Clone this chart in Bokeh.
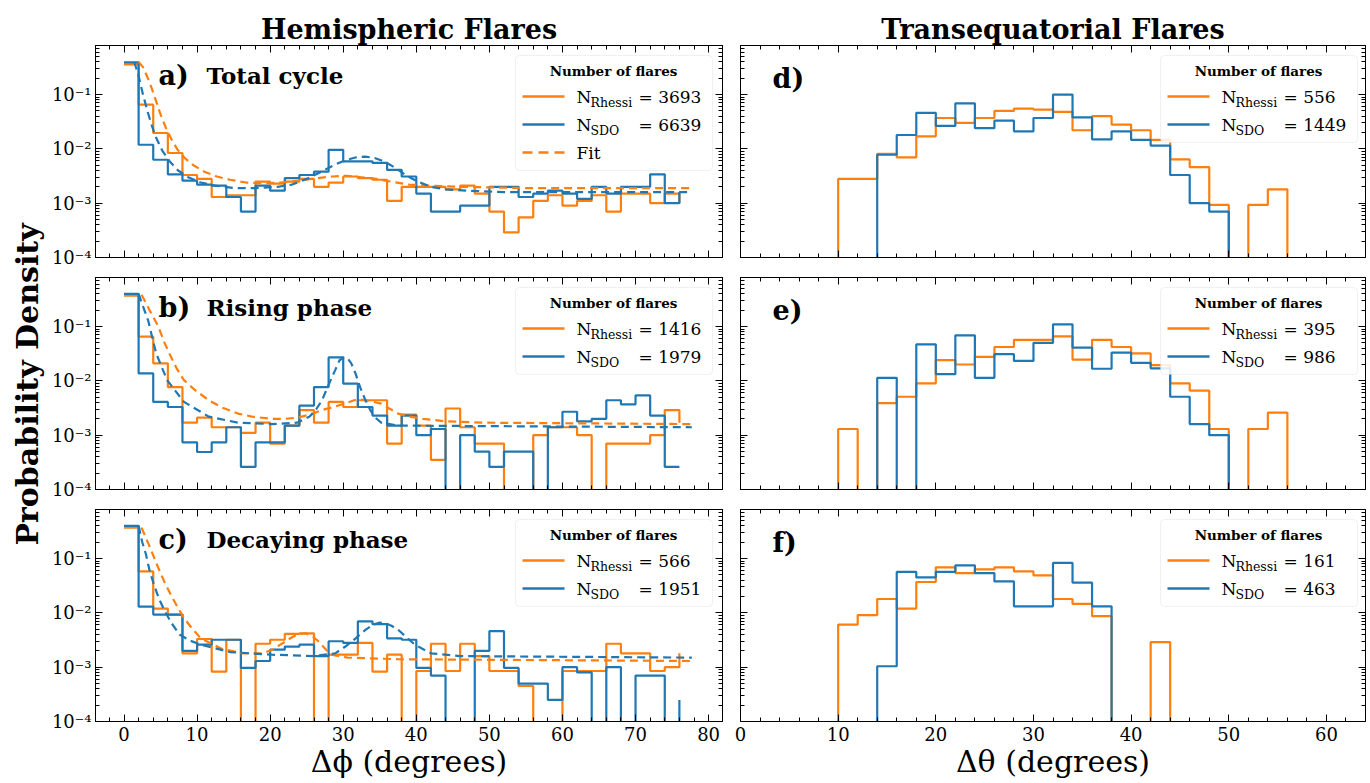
import math
from bokeh.plotting import figure
from bokeh.layouts import column, row
from bokeh.models import (Range1d, LinearAxis, LogAxis, FixedTicker,
                          CustomJSTickFormatter, Label, BoxAnnotation)
from bokeh.embed import file_html
from bokeh.resources import INLINE

# ------------------------------------------------------------------ data
hemi_edges = list(range(0, 78, 2))      # left bin edges, 0..76 deg
trans_edges = list(range(0, 60, 2))     # left bin edges, 0..58 deg

a_rhessi = [0.36, 0.065, 0.0196, 0.0084, 0.0033, 0.0028, 0.0013, 0.0014, 0.0014, 0.0025,
            0.0023, 0.0025, 0.0028, 0.0020, 0.0024, 0.0031, 0.0029, 0.0027, 0.0011, 0.0020,
            0.0020, 0.0020, 0.0018, 0.0021, 0.0015, 0.0007, 0.00029, 0.00055, 0.0011, 0.0014,
            0.0009, 0.0011, 0.0014, 0.0007, 0.0015, 0.0015, 0.0010, 0.0015, 0.0010]
a_sdo = [0.39, 0.0119, 0.0063, 0.0034, 0.0026, 0.0022, 0.0021, 0.0013, 0.0007, 0.0021,
         0.0017, 0.0029, 0.0033, 0.0038, 0.0096, 0.0059, 0.0059, 0.0055, 0.0041, 0.0031,
         0.0015, 0.0007, 0.0007, 0.0009, 0.0009, 0.0020, 0.0020, 0.0013, 0.0015, 0.0017,
         0.0015, 0.0012, 0.0020, 0.0015, 0.0020, 0.0020, 0.0034, 0.0010, 0.0016]
b_rhessi = [0.37, 0.065, 0.021, 0.0077, 0.0017, 0.0021, 0.0014, 0.0014, 0.0011, 0.0017,
            0.0007, 0.0015, 0.0029, 0.0017, 0.0041, 0.0033, 0.0044, 0.0044, 0.0007, 0.0024,
            0.0015, 0.00035, 0.0031, 0.0014, 0.0007, 0.0007, 0, 0, 0.0010, 0.0014,
            0.0014, 0.0010, 0, 0.0007, 0.0007, 0.0007, 0.0010, 0.0029, 0.0017]
b_sdo = [0.40, 0.0137, 0.0041, 0.0033, 0.00074, 0.00049, 0.00074, 0.0014, 0.00026, 0.00074,
         0.00074, 0.0015, 0.0035, 0.0077, 0.027, 0.0089, 0.0033, 0.0023, 0.0015, 0.0023,
         0.0010, 0.0013, 0, 0.0010, 0.0005, 0.00026, 0.0005, 0.0005, 0, 0.0014,
         0.0027, 0.0018, 0.0020, 0.0044, 0.0037, 0.0054, 0.0023, 0.00026, 0.00026]
c_rhessi = [0.37, 0.058, 0.012, 0.0093, 0.0018, 0.0033, 0.00083, 0.0032, 0, 0.0027,
            0.0032, 0.0041, 0.0042, 0, 0.0017, 0.0017, 0.0028, 0.00083, 0.0017, 0,
            0.00085, 0.0027, 0.00085, 0.0027, 0.0016, 0.00085, 0.00085, 0.00045, 0, 0,
            0.00085, 0.00085, 0.00085, 0.0027, 0.0018, 0.0018, 0.00085, 0.0010, 0.0018]
c_sdo = [0.40, 0.013, 0.0093, 0.0093, 0.0020, 0.0026, 0.0032, 0.0032, 0.00097, 0.0013,
         0.0021, 0.0024, 0.0026, 0.0016, 0.0030, 0.0028, 0.0070, 0.0062, 0.0034, 0.0032,
         0.00097, 0.0007, 0, 0, 0.0020, 0.0046, 0.00097, 0.0005, 0.0005, 0.00025,
         0.0010, 0.0008, 0, 0.0010, 0, 0.0007, 0.0007, 0, 0.00025]

d_rhessi = [0, 0, 0, 0, 0, 0.0028, 0.0028, 0.0081, 0.0070, 0.017,
            0.037, 0.030, 0.037, 0.050, 0.055, 0.053, 0.048, 0.022, 0.040, 0.028,
            0.022, 0.0146, 0.0064, 0.0046, 0.00093, 0, 0.00093, 0.0018, 0, 0]
d_sdo = [0, 0, 0, 0, 0, 0, 0, 0.0078, 0.018, 0.046,
         0.0265, 0.069, 0.024, 0.033, 0.021, 0.037, 0.10, 0.038, 0.015, 0.021,
         0.0146, 0.0115, 0.0033, 0.0010, 0.0007, 0, 0, 0, 0, 0]
e_rhessi = [0, 0, 0, 0, 0, 0.0013, 0, 0.0039, 0.0051, 0.0090,
            0.024, 0.020, 0.0277, 0.042, 0.057, 0.057, 0.066, 0.0247, 0.057, 0.042,
            0.032, 0.0195, 0.009, 0.0066, 0.0013, 0, 0.0013, 0.0026, 0, 0]
e_sdo = [0, 0, 0, 0, 0, 0, 0, 0.0114, 0, 0.047,
         0.0133, 0.069, 0.0114, 0.031, 0.0233, 0.050, 0.11, 0.041, 0.0167, 0.033,
         0.0215, 0.017, 0.0051, 0.0016, 0.0010, 0, 0, 0, 0, 0]
f_rhessi = [0, 0, 0, 0, 0, 0.0061, 0.0091, 0.018, 0.012, 0.037,
            0.069, 0.054, 0.063, 0.069, 0.058, 0.049, 0.018, 0.0146, 0.0087, 0,
            0, 0.0029, 0, 0, 0, 0, 0, 0, 0, 0]
f_sdo = [0, 0, 0, 0, 0, 0, 0, 0.00104, 0.057, 0.045,
         0.057, 0.075, 0.054, 0.038, 0.0132, 0.0132, 0.083, 0.036, 0.0132, 0,
         0, 0, 0, 0, 0, 0, 0, 0, 0, 0]

# fitted curves
a_fit_rhessi_x = [2.0, 2.6, 3.2, 3.8, 4.4, 5.0, 5.7, 6.5, 7.3, 8.3, 9.5, 11.0, 12.7, 14.5, 16.7,
                  19.0, 21.5, 24.0, 26.5, 28.5, 30.5, 32.5, 34.5, 36.5, 39.0, 42.0, 46.0, 55.0, 65.0, 77.7]
a_fit_rhessi = [0.40, 0.32, 0.21, 0.13, 0.075, 0.043, 0.025, 0.015, 0.0098, 0.0068, 0.0050, 0.0038,
                0.0031, 0.0027, 0.0024, 0.0023, 0.0024, 0.0026, 0.0029, 0.0031, 0.0032, 0.0030,
                0.0028, 0.0025, 0.0022, 0.0021, 0.0020, 0.0019, 0.0019, 0.0019]
a_fit_sdo_x = [1.4, 2.0, 2.6, 3.2, 3.8, 4.4, 5.2, 6.2, 7.4, 8.8, 10.5, 12.5, 15.0, 18.0, 21.0, 23.0,
               25.0, 27.0, 28.7, 30.3, 31.8, 33.0, 34.3, 35.7, 37.2, 38.7, 40.2, 42.0, 44.0, 47.0,
               52.0, 65.0, 77.7]
a_fit_sdo = [0.40, 0.22, 0.10, 0.05, 0.027, 0.016, 0.0095, 0.0060, 0.0040, 0.0030, 0.0024, 0.0021,
             0.0019, 0.0019, 0.0020, 0.0022, 0.0028, 0.0038, 0.0050, 0.0062, 0.0070, 0.0072, 0.0068,
             0.0058, 0.0044, 0.0032, 0.0025, 0.0020, 0.0018, 0.0017, 0.0016, 0.0016, 0.0016]
b_fit_rhessi_x = [2.4, 3.5, 4.7, 5.5, 6.4, 7.2, 8.2, 9.7, 11.6, 13.5, 15.6, 17.5, 20.2, 22.0, 23.7,
                  25.5, 27.1, 29.0, 30.6, 31.5, 32.5, 33.5, 35.2, 36.3, 37.5, 39.0, 40.9, 44.0, 49.0, 77.7]
b_fit_rhessi = [0.385, 0.20, 0.10, 0.052, 0.028, 0.017, 0.0103, 0.0068, 0.0044, 0.0032, 0.0025,
                0.0022, 0.0020, 0.0020, 0.0021, 0.0024, 0.0029, 0.0034, 0.0040, 0.0044, 0.0045,
                0.0043, 0.0038, 0.0031, 0.0025, 0.0022, 0.0020, 0.0018, 0.0017, 0.0016]
b_fit_sdo_x = [2.0, 2.4, 3.3, 4.4, 5.9, 8.2, 11.6, 15.6, 20.2, 23.7, 25.4, 26.3, 27.1, 28.0, 28.9,
               29.5, 30.1, 30.6, 31.1, 31.7, 32.3, 33.0, 33.7, 34.4, 35.2, 37.5, 77.7]
b_fit_sdo = [0.40, 0.28, 0.13, 0.032, 0.0103, 0.0041, 0.0022, 0.0017, 0.0016, 0.0017, 0.0022, 0.0030,
             0.0044, 0.0085, 0.0158, 0.024, 0.027, 0.026, 0.021, 0.0135, 0.0077, 0.0045, 0.0029,
             0.0021, 0.0017, 0.0015, 0.0014]
c_fit_rhessi_x = [2.4, 3.4, 4.7, 5.5, 6.4, 7.3, 8.2, 9.3, 10.5, 13.3, 16.2, 19.0, 20.3, 21.4, 22.6,
                  23.7, 24.8, 25.8, 26.6, 27.5, 28.3, 30.6, 37.5, 77.7]
c_fit_rhessi = [0.37, 0.18, 0.067, 0.038, 0.0216, 0.013, 0.008, 0.0052, 0.0034, 0.0022, 0.0018,
                0.0018, 0.0021, 0.0026, 0.0033, 0.0040, 0.0042, 0.0037, 0.0030, 0.0022, 0.0017,
                0.0015, 0.0014, 0.0013]
c_fit_sdo_x = [2.0, 2.5, 3.0, 3.5, 4.1, 4.8, 5.6, 6.5, 7.6, 9.0, 10.5, 14.5, 20.2, 26.0, 28.9, 30.3,
               31.7, 33.0, 34.0, 35.0, 35.7, 36.6, 37.5, 38.7, 39.8, 42.0, 46.0, 77.7]
c_fit_sdo = [0.40, 0.20, 0.12, 0.06, 0.033, 0.018, 0.0106, 0.0065, 0.0040, 0.0031, 0.0026, 0.0019,
             0.0017, 0.0016, 0.0018, 0.0024, 0.0034, 0.0048, 0.0060, 0.0066, 0.0065, 0.0058,
             0.0049, 0.0035, 0.0026, 0.0018, 0.0016, 0.0015]

n_flares = {"a": (3693, 6639), "b": (1416, 1979), "c": (566, 1951),
            "d": (556, 1449), "e": (395, 986), "f": (161, 463)}
panel_titles = {"a": "Total cycle", "b": "Rising phase", "c": "Decaying phase"}

y_ticks = [1e-4, 1e-3, 1e-2, 1e-1]
y_tick_labels = ["10⁻⁴", "10⁻³", "10⁻²", "10⁻¹"]
hemi_xticks = [0, 10, 20, 30, 40, 50, 60, 70, 80]
trans_xticks = [0, 10, 20, 30, 40, 50, 60]

# ------------------------------------------------------------------ style
FONT = "DejaVu Serif"
ORANGE = "#ff7f0e"
BLUE = "#1f77b4"
FH = 212
LW = 2.2
YMIN, YMAX = 1e-4, 0.8
LABEL_W = 45            # width of the strip holding the shared y label
TOTAL_H = 783

y_minor = [m * 10.0 ** e for e in range(-4, 0) for m in range(2, 10)]
hemi_xminor = [v for v in range(-2, 82, 2) if v % 10]
trans_xminor = [v for v in range(2, 64, 2) if v % 10]

ylab_formatter = CustomJSTickFormatter(args=dict(vals=y_ticks, labs=y_tick_labels), code="""
let best = 0, bd = Infinity;
for (let i = 0; i < vals.length; i++) {
  const d = Math.abs(Math.log10(vals[i]) - Math.log10(tick));
  if (d < bd) { bd = d; best = i; }
}
return labs[best];
""")


def floor0(vals):
    return [v if v > 0 else 1e-9 for v in vals]


class Frame:
    """Converts pixel offsets inside a panel frame into data coordinates."""
    def __init__(self, x0, x1, fw):
        self.x0, self.x1, self.fw = x0, x1, fw

    def X(self, px):                      # px from frame left
        return self.x0 + px / self.fw * (self.x1 - self.x0)

    def Y(self, py):                      # py from frame top
        lo, hi = math.log10(YMIN), math.log10(YMAX)
        return 10 ** (hi - py / FH * (hi - lo))


def style_axis(ax, labels, standoff):
    ax.major_tick_in = 7
    ax.major_tick_out = 0
    ax.minor_tick_in = 4
    ax.minor_tick_out = 0
    ax.axis_line_color = "black"
    ax.major_tick_line_color = "black"
    ax.minor_tick_line_color = "black"
    ax.major_label_text_font = FONT
    if labels:
        ax.major_label_text_font_size = "18px"
        ax.major_label_text_color = "black"
        ax.major_label_standoff = standoff
    else:
        ax.major_label_text_font_size = "1px"
        ax.major_label_text_color = None
        ax.major_label_standoff = 0


def axis_title(ax, text, size, bold, standoff):
    ax.axis_label = text
    ax.axis_label_text_font = FONT
    ax.axis_label_text_font_size = f"{size}px"
    ax.axis_label_text_font_style = "bold" if bold else "normal"
    ax.axis_label_text_color = "black"
    ax.axis_label_standoff = standoff


def txt(p, fr, px, py, text, size, bold=False, align="left", baseline="middle"):
    p.add_layout(Label(x=fr.X(px), y=fr.Y(py), text=text,
                       text_font=FONT, text_font_size=f"{size}px",
                       text_font_style="bold" if bold else "normal",
                       text_align=align, text_baseline=baseline,
                       text_color="black"))


def legend(p, fr, key, fit):
    nr, ns = n_flares[key]
    n = 3 if fit else 2
    p.add_layout(BoxAnnotation(left=fr.X(420), right=fr.X(617), top=fr.Y(10),
                               bottom=fr.Y(41 + 28 * n),
                               fill_color="white", fill_alpha=0.85,
                               line_color="#cccccc", line_width=1, border_radius=4))
    txt(p, fr, 518, 25, "Number of flares", 13.5, bold=True, align="center")
    rows = [("Rhessi", nr, ORANGE, 51), ("SDO", ns, BLUE, 79)]
    for sub, num, col, off in rows:
        p.line([fr.X(427), fr.X(469)], [fr.Y(off), fr.Y(off)], line_color=col,
               line_width=2.5, level="overlay")
        txt(p, fr, 481, off, "N", 17)
        txt(p, fr, 495, off + 6, sub, 12.5)
        txt(p, fr, 543, off, f"= {num}", 17)
    if fit:
        p.line([fr.X(427), fr.X(469)], [fr.Y(107), fr.Y(107)], line_color=ORANGE,
               line_width=2.5, line_dash="10 6", level="overlay")
        txt(p, fr, 481, 107, "Fit", 17)


def make_panel(kind, top, bottom, show_xlabels, title=None):
    if kind == "hemi":
        x0, x1 = -3.9, 81.9
        left, right, fw = 95 - LABEL_W, 9, 627
        xt, xm = hemi_xticks, hemi_xminor
    else:
        x0, x1 = 0, 64
        left, right, fw = 9, 5, 625
        xt, xm = trans_xticks, trans_xminor
    p = figure(width=left + fw + right, height=top + FH + bottom, x_range=Range1d(x0, x1),
               y_range=Range1d(YMIN, YMAX), y_axis_type="log",
               output_backend="svg", toolbar_location=None,
               min_border_left=left, min_border_right=right,
               min_border_top=top, min_border_bottom=bottom)
    if title:
        p.title.text = title
        p.title.align = "center"
        p.title.text_font = FONT
        p.title.text_font_size = "27px"
        p.title.text_font_style = "bold"
        p.title.text_color = "black"
        p.title.standoff = 2
    p.xgrid.visible = False
    p.ygrid.visible = False
    p.outline_line_color = "black"
    p.outline_line_width = 1
    p.background_fill_color = "white"
    p.border_fill_color = "white"
    xticker = FixedTicker(ticks=xt, minor_ticks=xm)
    yticker = FixedTicker(ticks=y_ticks, minor_ticks=y_minor)
    xb = p.xaxis[0]
    yl = p.yaxis[0]
    xb.ticker = xticker
    yl.ticker = yticker
    if kind == "hemi":
        yl.formatter = ylab_formatter
    xa = LinearAxis(ticker=xticker)
    yr = LogAxis(ticker=yticker)
    p.add_layout(xa, "above")
    p.add_layout(yr, "right")
    style_axis(xb, show_xlabels, 5)
    style_axis(yl, kind == "hemi", 4)
    style_axis(xa, False, 0)
    style_axis(yr, False, 0)
    return p, Frame(x0, x1, fw), xb


def draw_hemi(p, fr, key, rh, sd, fits):
    p.step(hemi_edges, floor0(rh), mode="after", line_color=ORANGE, line_width=LW)
    p.step(hemi_edges, floor0(sd), mode="after", line_color=BLUE, line_width=LW)
    (frx, fry), (fsx, fsy) = fits
    p.line(frx, fry, line_color=ORANGE, line_width=LW, line_dash="8 5")
    p.line(fsx, fsy, line_color=BLUE, line_width=LW, line_dash="8 5")
    txt(p, fr, 63, 30, key + ")", 27, bold=True)
    txt(p, fr, 111, 30, panel_titles[key], 23, bold=True)
    legend(p, fr, key, key == "a")


def draw_trans(p, fr, key, rh, sd):
    p.step(trans_edges, floor0(rh), mode="after", line_color=ORANGE, line_width=LW)
    p.step(trans_edges, floor0(sd), mode="after", line_color=BLUE, line_width=LW)
    txt(p, fr, 32, 33, key + ")", 27, bold=True)
    legend(p, fr, key, False)


fa, ra, _ = make_panel("hemi", 45, 10, False, "Hemispheric Flares")
fb, rb, _ = make_panel("hemi", 10, 10, False)
fc, rc, xc = make_panel("hemi", 10, 62, True)
fd, rd, _ = make_panel("trans", 45, 10, False, "Transequatorial Flares")
fe, re_, _ = make_panel("trans", 10, 10, False)
ff, rf, xf = make_panel("trans", 10, 62, True)

axis_title(xc, "Δϕ (degrees)", 30, False, 0)
axis_title(xf, "Δθ (degrees)", 30, False, 0)

draw_hemi(fa, ra, "a", a_rhessi, a_sdo, ((a_fit_rhessi_x, a_fit_rhessi), (a_fit_sdo_x, a_fit_sdo)))
draw_hemi(fb, rb, "b", b_rhessi, b_sdo, ((b_fit_rhessi_x, b_fit_rhessi), (b_fit_sdo_x, b_fit_sdo)))
draw_hemi(fc, rc, "c", c_rhessi, c_sdo, ((c_fit_rhessi_x, c_fit_rhessi), (c_fit_sdo_x, c_fit_sdo)))
draw_trans(fd, rd, "d", d_rhessi, d_sdo)
draw_trans(fe, re_, "e", e_rhessi, e_sdo)
draw_trans(ff, rf, "f", f_rhessi, f_sdo)

# shared y label in its own full-height strip
strip = figure(width=LABEL_W, height=TOTAL_H, x_range=Range1d(0, LABEL_W),
               y_range=Range1d(0, TOTAL_H), x_axis_type=None, y_axis_type=None,
               output_backend="svg", toolbar_location=None, min_border=0)
strip.outline_line_color = None
strip.xgrid.visible = False
strip.ygrid.visible = False
strip.add_layout(Label(x=27, y=TOTAL_H - 384, text="Probability Density", angle=math.pi / 2,
                       text_font=FONT, text_font_size="30px", text_font_style="bold",
                       text_align="center", text_baseline="middle", text_color="black"))

grid = column(row(fa, fd), row(fb, fe), row(fc, ff))
layout = row(strip, grid)
open("out.html", "w").write(file_html(layout, INLINE))
